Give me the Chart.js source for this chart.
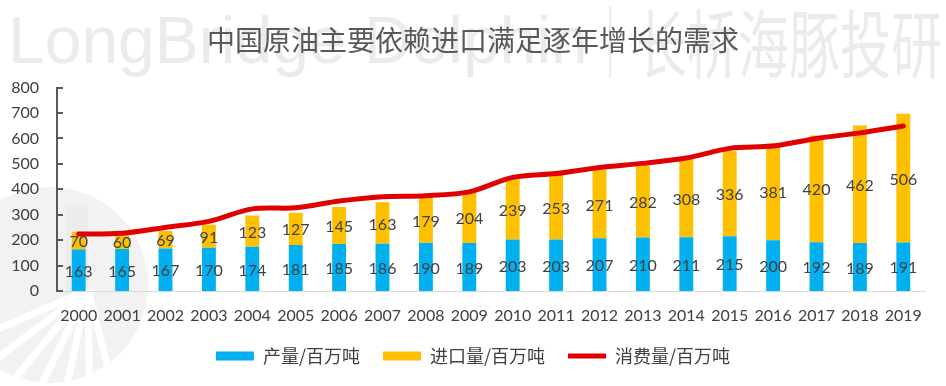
<!DOCTYPE html>
<html>
<head>
<meta charset="utf-8">
<script src="https://cdn.jsdelivr.net/npm/chart.js@4.4.1/dist/chart.umd.min.js"></script>
<style>
html,body{margin:0;padding:0;background:#fff;}
#wrap{width:946px;height:386px;position:relative;}
</style>
</head>
<body>
<div id="wrap"><canvas id="c" width="946" height="386"></canvas></div>
<script>
const years = ['2000','2001','2002','2003','2004','2005','2006','2007','2008','2009','2010','2011','2012','2013','2014','2015','2016','2017','2018','2019'];
const production = [163,165,167,170,174,181,185,186,190,189,203,203,207,210,211,215,200,192,189,191];
const imports = [70,60,69,91,123,127,145,163,179,204,239,253,271,282,308,336,381,420,462,506];
const consumption = [224,227,250,274,323,327,354,371,375,390,447,462,486,502,523,561,570,600,622,649];
const yTicks = [0,100,200,300,400,500,600,700,800];
const titleText = '中国原油主要依赖进口满足逐年增长的需求';
const seriesNames = ['产量/百万吨','进口量/百万吨','消费量/百万吨'];
const watermarkEn = 'LongBridge Dolphin';
const watermarkCn = '长桥海豚投研';

const watermark = {
  id: 'watermark',
  beforeDraw(chart) {
    const ctx = chart.ctx;
    ctx.save();
    ctx.fillStyle = '#ffffff';
    ctx.fillRect(0, 0, chart.width, chart.height);
    // faint logo bottom-left
    ctx.save();
    ctx.beginPath();
    ctx.arc(50, 285, 98, 0, Math.PI * 2);
    ctx.fillStyle = '#f2f2f2';
    ctx.fill();
    ctx.clip();
    ctx.fillStyle = '#ececec';
    ctx.fillRect(66, 205, 22, 100);
    ctx.strokeStyle = '#ffffff';
    ctx.lineWidth = 7;
    for (let i = 0; i < 7; i++) {
      ctx.beginPath();
      ctx.moveTo(88, 290);
      const a = Math.PI * (0.42 + i * 0.075);
      ctx.lineTo(88 + Math.cos(a) * 200, 290 + Math.sin(a) * 200);
      ctx.stroke();
    }
    ctx.restore();
    ctx.fillStyle = '#ebebeb';
    ctx.textBaseline = 'alphabetic';
    ctx.textAlign = 'left';
    ctx.font = '66px "Liberation Sans", Arial, sans-serif';
    ctx.fillText(watermarkEn, 8, 63, 592);
    ctx.fillRect(609, 6, 2, 72);
    ctx.font = '74px "Noto Sans CJK SC", sans-serif';
    ctx.fillText(watermarkCn, 636, 72, 306);
    ctx.restore();
  }
};

const extras = {
  id: 'extras',
  afterDatasetsDraw(chart) {
    const ctx = chart.ctx;
    ctx.save();
    ctx.font = '16px Lato, "Liberation Sans", sans-serif';
    ctx.fillStyle = '#404040';
    ctx.textAlign = 'center';
    ctx.textBaseline = 'middle';
    [0, 1].forEach(di => {
      const meta = chart.getDatasetMeta(di);
      const data = chart.data.datasets[di].data;
      meta.data.forEach((el, i) => {
        const y = (el.y + el.base) / 2 + 1.5;
        ctx.fillText(String(data[i]), el.x, y);
      });
    });
    ctx.restore();
  },
  afterDraw(chart) {
    const ctx = chart.ctx;
    const ys = chart.scales.y;
    ctx.save();
    ctx.strokeStyle = '#595959';
    ctx.lineWidth = 2;
    yTicks.forEach(v => {
      const py = Math.round(ys.getPixelForValue(v));
      ctx.beginPath();
      ctx.moveTo(ys.right, py);
      ctx.lineTo(ys.right + 6, py);
      ctx.stroke();
    });
    ctx.restore();
  }
};

new Chart(document.getElementById('c'), {
  type: 'bar',
  data: {
    labels: years,
    datasets: [
      { label: seriesNames[0], data: production, backgroundColor: '#00B0F0', stack: 'oil', order: 1,
        categoryPercentage: 1, barPercentage: 0.32, pointStyle: 'rect', borderWidth: 0 },
      { label: seriesNames[1], data: imports, backgroundColor: '#FFC000', stack: 'oil', order: 1,
        categoryPercentage: 1, barPercentage: 0.32, pointStyle: 'rect', borderWidth: 0 },
      { type: 'line', label: seriesNames[2], data: consumption, borderColor: '#E00000', backgroundColor: '#E00000',
        borderWidth: 5, tension: 0.3, pointRadius: 0, stack: 'line', order: 0, pointStyle: 'line',
        borderCapStyle: 'round', borderJoinStyle: 'round' }
    ]
  },
  options: {
    responsive: false,
    animation: false,
    devicePixelRatio: 1,
    layout: { padding: { left: 0, right: 0, top: 0, bottom: 11 } },
    plugins: {
      tooltip: { enabled: false },
      title: {
        display: true,
        text: titleText,
        color: '#595959',
        font: { family: '"Noto Sans CJK SC", sans-serif', size: 28, weight: 'normal', lineHeight: 1.2 },
        padding: { top: 24, bottom: 30 }
      },
      legend: {
        position: 'bottom',
        labels: {
          usePointStyle: true,
          pointStyleWidth: 38,
          boxHeight: 9,
          padding: 23,
          color: '#404040',
          font: { family: '"Noto Sans CJK SC", sans-serif', size: 18 },
          sort: (a, b) => a.datasetIndex - b.datasetIndex
        }
      }
    },
    scales: {
      x: {
        stacked: true,
        grid: { display: false, drawTicks: false },
        border: { display: true, color: '#d9d9d9', width: 1 },
        ticks: { color: '#404040', padding: 17, maxRotation: 0, autoSkip: false,
                 font: { family: 'Lato, "Liberation Sans", sans-serif', size: 16, lineHeight: 1 } },
        afterFit: s => { s.height = 33; }
      },
      y: {
        stacked: true,
        min: 0, max: 800,
        afterBuildTicks: s => { s.ticks = yTicks.map(v => ({ value: v })); },
        grid: { display: false, drawTicks: false },
        border: { display: true, color: '#595959', width: 2 },
        ticks: { color: '#404040', padding: 18, autoSkip: false,
                 font: { family: 'Lato, "Liberation Sans", sans-serif', size: 16 } },
        afterFit: s => { s.width = 57; }
      },
      yRightSpace: {
        type: 'linear',
        position: 'right',
        display: true,
        grid: { display: false, drawTicks: false },
        border: { display: false },
        ticks: { display: false },
        afterFit: s => { s.width = 21; }
      }
    }
  },
  plugins: [watermark, extras]
});
</script>
</body>
</html>
